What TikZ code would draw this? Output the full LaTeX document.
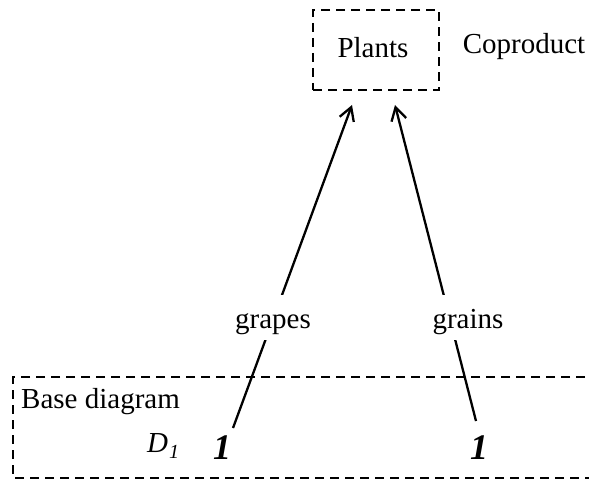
\documentclass[tikz,border=0pt]{standalone}
\usepackage{fontspec}
\setmainfont{Liberation Serif}
\usetikzlibrary{arrows.meta}
\tikzset{
  dash box/.style={draw, line width=2.3pt, dash pattern=on 9pt off 6pt},
  txt/.style={font=\fontsize{29}{34}\selectfont, inner sep=0pt},
  one/.style={font=\fontsize{36}{40}\selectfont\bfseries\itshape, inner sep=0pt, anchor=base},
  lbl/.style={font=\fontsize{29}{34}\selectfont, fill=white, anchor=base, text height=28pt, text depth=7pt, inner ysep=5pt, inner xsep=2pt},
  arr/.style={line width=2.3pt, -{Straight Barb[length=13pt,width=15pt,line width=2.3pt]}}
}
\begin{document}
\begin{tikzpicture}[x=1pt,y=-1pt]
\useasboundingbox (0,0) rectangle (589,481);
% top box
\node[dash box, minimum width=126pt, minimum height=80pt, inner sep=0pt] (plantsbox) at (376,50) {};
\node[txt] (plants) at (373,48) {Plants};
\node[txt] (coprod) at (524,47) {Coproduct};
% base diagram frame (open at right)
\draw[dash box] (600,377) -- (13,377) -- (13,478) -- (600,478);
\node[txt, anchor=base west] (base) at (21,408) {Base diagram};
\node[txt, anchor=base west] (d1) at (147,452) {\itshape D\kern1pt\raisebox{-6pt}{\fontsize{20}{24}\selectfont 1}};
\node[one] (oneL) at (222,459) {1};
\node[one] (oneR) at (479,459) {1};
% arrows
\coordinate (sL) at (233,428);
\coordinate (tL) at (352,105);
\coordinate (sR) at (476,421);
\coordinate (tR) at (395,105);
\draw[arr] (sL) -- (tL);
\draw[arr] (sR) -- (tR);
\node[lbl] (grapes) at (273,328) {grapes};
\node[lbl] (grains) at (468,328) {grains};
\end{tikzpicture}
\end{document}
